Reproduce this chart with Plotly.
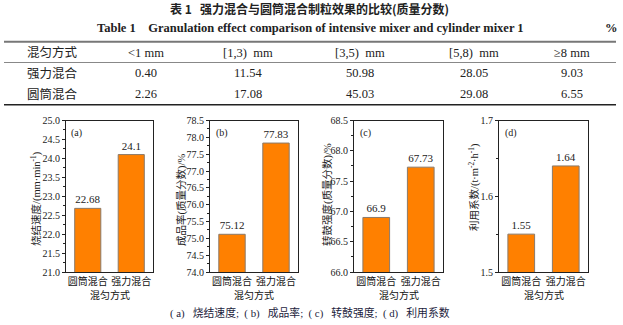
import plotly.graph_objects as go

# ---- data -------------------------------------------------------------
table_header = ["混匀方式", "<1 mm", "[1,3)  mm", "[3,5)  mm", "[5,8)  mm", "≥8 mm"]
table_methods = ["强力混合", "圆筒混合"]
frac_lt1 = ["0.40", "2.26"]
frac_1_3 = ["11.54", "17.08"]
frac_3_5 = ["50.98", "45.03"]
frac_5_8 = ["28.05", "29.08"]
frac_ge8 = ["9.03", "6.55"]

bar_methods = ["圆筒混合", "强力混合"]
sinter_speed = [22.68, 24.1]          # mm/min
yield_rate = [75.12, 77.83]           # %
drum_strength = [66.9, 67.73]         # %
utilization = [1.55, 1.64]            # t/(m2·h)

panel_tags = ["(a)", "(b)", "(c)", "(d)"]
y_titles = ["烧结速度/(mm·min<sup>-1</sup>)", "成品率(质量分数)/%",
            "转鼓强度(质量分数)/%", "利用系数/(t·m<sup>-2</sup>·h<sup>-1</sup>)"]
y_ranges = [(21.0, 25.0), (74.0, 78.5), (66.0, 68.5), (1.5, 1.7)]
y_dticks = [0.5, 0.5, 0.5, 0.1]
x_title = "混匀方式"

title_cn = "表 1   强力混合与圆筒混合制粒效果的比较(质量分数)"
title_en = "Table 1    Granulation effect comparison of intensive mixer and cylinder mixer 1"
caption = "( a)   烧结速度;  ( b)   成品率;  ( c)   转鼓强度;  ( d)   利用系数"

# ---- layout helpers ---------------------------------------------------
W, H = 623, 325
SERIF = "Liberation Serif, Noto Sans CJK SC"
CJK = "Noto Sans CJK SC"
INK = "#222"


def fx(px):
    return px / W


def fy(py):
    return 1 - py / H


def label(text, x, y, size, family=SERIF, angle=0, color=INK, xanchor="center"):
    return dict(text=text, x=fx(x), y=fy(y), xref="paper", yref="paper",
                showarrow=False, xanchor=xanchor, yanchor="middle", textangle=angle,
                font=dict(family=family, size=size, color=color))


fig = go.Figure()
annotations = []

# ---- table ------------------------------------------------------------
shapes = [
    dict(type="line", xref="paper", yref="paper", x0=fx(4), x1=fx(616),
         y0=fy(41.7), y1=fy(41.7), line=dict(color="#777", width=2)),
    dict(type="line", xref="paper", yref="paper", x0=fx(4), x1=fx(616),
         y0=fy(62.5), y1=fy(62.5), line=dict(color="#888", width=1)),
    dict(type="line", xref="paper", yref="paper", x0=fx(4), x1=fx(616),
         y0=fy(104.8), y1=fy(104.8), line=dict(color="#222", width=1.6)),
]

col_centers = [52, 146, 248, 360, 474, 572]
header_y = 52.7
row_ys = [73.0, 94.3]
columns = [table_methods, frac_lt1, frac_1_3, frac_3_5, frac_5_8, frac_ge8]

for cx, head in zip(col_centers, table_header):
    annotations.append(label(head, cx, header_y, 12.5))
for cx, col in zip(col_centers, columns):
    for ry, cell in zip(row_ys, col):
        annotations.append(label(cell, cx, ry, 12.5))

annotations += [
    label("<b>" + title_cn + "</b>", 309, 9, 12, family=CJK),
    label("<b>" + title_en + "</b>", 310, 28, 12.5, family="Liberation Serif"),
    label("<b>%</b>", 611, 28, 12.5, family="Liberation Serif"),
    label(caption, 310, 313, 10.8, color="#1c1c3c"),
]

# ---- bar panels -------------------------------------------------------
panel_x = [(66, 153), (210, 298), (354, 443), (499, 588)]
panel_y = (120.5, 272)
ytitle_pos = [(36, 199), (181, 200), (327, 195), (474, 187)]
series = [sinter_speed, yield_rate, drum_strength, utilization]

for i, vals in enumerate(series):
    n = i + 1
    xa = "x" if n == 1 else f"x{n}"
    ya = "y" if n == 1 else f"y{n}"
    fig.add_trace(go.Bar(
        x=bar_methods, y=vals, xaxis=xa, yaxis=ya, width=0.6,
        marker=dict(color="#FF8000", line=dict(color="#8a7a6a", width=1)),
        text=[str(v) for v in vals], textposition="outside", cliponaxis=False,
        textfont=dict(family="Liberation Serif", size=11, color=INK),
        showlegend=False,
    ))
    lo, hi = y_ranges[i]
    dt = y_dticks[i]
    x0, x1 = panel_x[i]
    fig.layout[f"xaxis{'' if n == 1 else n}"] = dict(
        domain=[fx(x0), fx(x1)], anchor=ya, range=[-0.5, 1.5],
        showline=True, linecolor=INK, linewidth=1, mirror=True,
        ticks="", showgrid=False, automargin=False,
        tickfont=dict(family=CJK, size=10, color="#111"),
    )
    fig.layout[f"yaxis{'' if n == 1 else n}"] = dict(
        domain=[fy(panel_y[1]), fy(panel_y[0])], anchor=xa, range=[lo, hi],
        dtick=dt, tick0=lo, tickformat=".1f",
        showline=True, linecolor=INK, linewidth=1, mirror=True,
        ticks="outside", ticklen=3, tickwidth=1, tickcolor=INK,
        minor=dict(ticks="outside", ticklen=2, dtick=dt / 2, tickcolor=INK),
        showgrid=False, zeroline=False, automargin=False,
        tickfont=dict(family="Liberation Serif", size=10, color=INK),
    )
    annotations.append(dict(
        text=panel_tags[i], xref=f"{xa} domain", yref=f"{ya} domain",
        x=0.04, y=0.97, xanchor="left", yanchor="top", showarrow=False,
        font=dict(family="Liberation Serif", size=10, color=INK),
    ))
    tx, ty = ytitle_pos[i]
    annotations.append(label(y_titles[i], tx, ty, 10.5, angle=-90))
    annotations.append(label(x_title, (x0 + x1) / 2, 294, 10, family=CJK, color="#111"))

fig.update_layout(
    width=W, height=H, margin=dict(l=0, r=0, t=0, b=0),
    paper_bgcolor="white", plot_bgcolor="white",
    shapes=shapes, annotations=annotations,
)

fig.write_html("out.html")
